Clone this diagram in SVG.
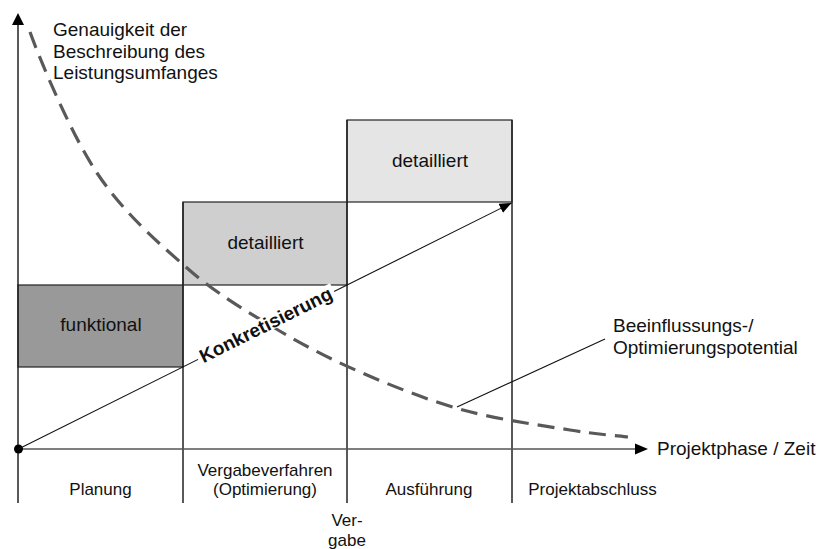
<svg xmlns="http://www.w3.org/2000/svg" width="819" height="549" viewBox="0 0 819 549">
<defs>
<style>
text{font-family:"Liberation Sans",Arial,sans-serif;fill:#111}
.lbl{font-size:19px}
.sm{font-size:17px;text-anchor:middle}
.mid{text-anchor:middle}
.box{stroke:#222;stroke-width:1.2}
.vl{stroke:#222;stroke-width:1.5;fill:none}
.axis{stroke:#555;stroke-width:1.6;fill:none}
.curve{stroke:#595959;stroke-width:3.2;fill:none;stroke-dasharray:17 9}
.thin{stroke:#111;stroke-width:1.1;fill:none}
</style>
<marker id="arr" viewBox="0 0 12 10" refX="12" refY="5" markerWidth="12" markerHeight="10" markerUnits="userSpaceOnUse" orient="auto">
<path d="M0,0L12,5L0,10z" fill="#000"/>
</marker>
</defs>
<rect width="819" height="549" fill="#fff"/>
<g id="box-funktional">
<rect class="box" x="18" y="285" width="165" height="82" fill="#999999"/>
<text class="lbl mid" x="101" y="331">funktional</text>
</g>
<g id="box-detailliert-1">
<rect class="box" x="183" y="202" width="164" height="83" fill="#cfcfcf"/>
<text class="lbl mid" x="265.5" y="249">detailliert</text>
</g>
<g id="box-detailliert-2">
<rect class="box" x="347" y="120" width="165" height="82" fill="#e5e5e5"/>
<text class="lbl mid" x="430" y="167">detailliert</text>
</g>
<g id="connectors">
<line class="vl" x1="183" y1="202" x2="183" y2="503"/>
<line class="vl" x1="347" y1="120" x2="347" y2="503"/>
<line class="vl" x1="512" y1="120" x2="512" y2="503"/>
<line class="vl" x1="18" y1="20" x2="18" y2="503" marker-start="url(#arrUp)"/>
<path d="M18,13L24,25L12,25z" fill="#000"/>
<line class="axis" x1="18" y1="449" x2="636" y2="449"/>
<path d="M648,449L635,443.5L635,454.5z" fill="#000"/>
<circle cx="18.5" cy="449" r="4.5" fill="#000"/>
<line class="thin" x1="18.5" y1="449" x2="511.5" y2="203" marker-end="url(#arr)"/>
<path class="curve" d="M30,32C40,60 70.8,133.7 97,173C123.2,212.3 157.7,242.3 187,268C216.3,293.7 244.2,309.7 273,327C301.8,344.3 328.3,358.2 360,372C391.7,385.8 428,400.3 463,410C498,419.7 542.5,425.5 570,430C597.5,434.5 618.3,435.8 628,437"/>
<line class="thin" x1="457" y1="407" x2="605" y2="339"/>
</g>
<g id="label-konkretisierung" transform="translate(266,325.3) rotate(-26.5)">
<rect x="-76" y="-9" width="152" height="16" fill="#fff"/>
<text x="0" y="6" class="mid" style="font-size:19px;font-weight:bold">Konkretisierung</text>
</g>
<g id="label-yaxis">
<text class="lbl" x="53" y="36">Genauigkeit der</text>
<text class="lbl" x="53" y="57.5">Beschreibung des</text>
<text class="lbl" x="53" y="79">Leistungsumfanges</text>
</g>
<g id="label-potential">
<text class="lbl" x="613" y="332">Beeinflussungs-/</text>
<text class="lbl" x="613" y="354">Optimierungspotential</text>
</g>
<g id="label-xaxis">
<text class="lbl" x="657" y="455">Projektphase / Zeit</text>
</g>
<g id="phase-planung"><text class="sm" x="100.5" y="495">Planung</text></g>
<g id="phase-vergabeverfahren"><text class="sm" x="265" y="476">Vergabeverfahren</text><text class="sm" x="265" y="495">(Optimierung)</text></g>
<g id="phase-ausfuehrung"><text class="sm" x="429" y="495">Ausführung</text></g>
<g id="phase-projektabschluss"><text class="sm" x="592.5" y="495">Projektabschluss</text></g>
<g id="label-vergabe"><text class="sm" x="347" y="525.5">Ver-</text><text class="sm" x="347" y="545.5">gabe</text></g>
</svg>
